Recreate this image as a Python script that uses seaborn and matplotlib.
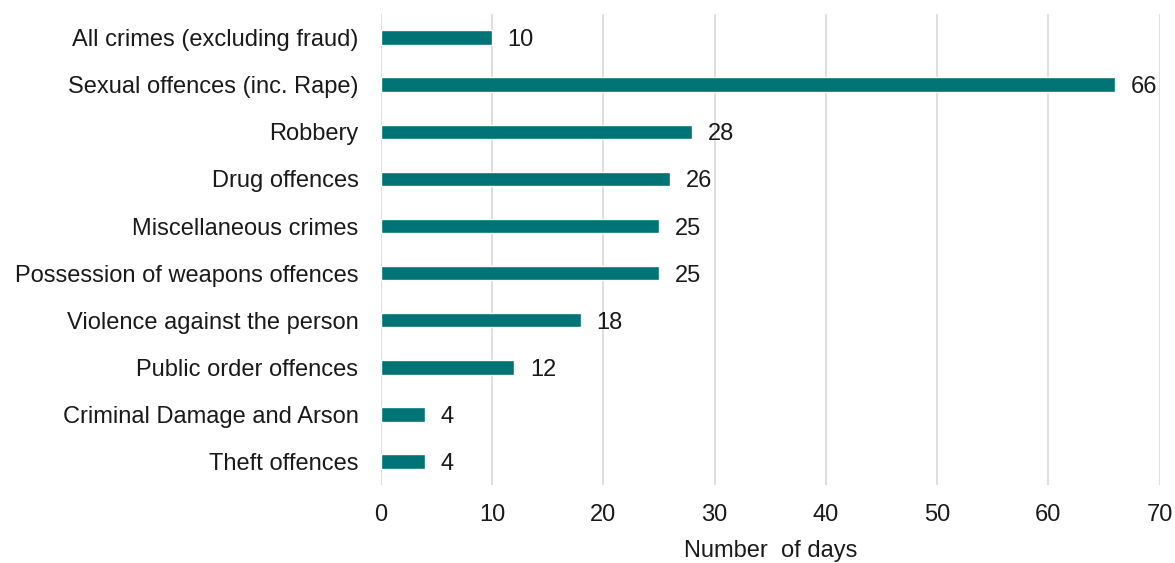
import matplotlib
matplotlib.use("Agg")
import matplotlib.pyplot as plt
import seaborn as sns
import pandas as pd

categories = [
    "All crimes (excluding fraud)",
    "Sexual offences (inc. Rape)",
    "Robbery",
    "Drug offences",
    "Miscellaneous crimes",
    "Possession of weapons offences",
    "Violence against the person",
    "Public order offences",
    "Criminal Damage and Arson",
    "Theft offences",
]
days = [10, 66, 28, 26, 25, 25, 18, 12, 4, 4]
x_ticks = [0, 10, 20, 30, 40, 50, 60, 70]

sns.set_theme(style="white")
plt.rcParams["font.family"] = ["Liberation Sans", "DejaVu Sans"]

df = pd.DataFrame({"category": categories, "days": days})

fig = plt.figure(figsize=(11.75, 5.63), dpi=100)
ax = fig.add_axes([0.324, 0.1385, 0.663, 0.8365])

sns.barplot(data=df, y="category", x="days", orient="h", color="#007376",
            width=0.31, saturation=1, ax=ax)

for i, v in enumerate(days):
    ax.text(v + 1.4, i, f"{v}", va="center_baseline", ha="left",
            fontsize=17, color="#1a1a1a")

ax.set_xlim(0, 70)
ax.set_ylim(9.5, -0.5)
ax.set_xticks(x_ticks)
ax.set_xticklabels([str(t) for t in x_ticks], fontsize=17, color="#1a1a1a")
ax.tick_params(axis="y", labelsize=17, labelcolor="#1a1a1a", length=0, pad=16)
ax.tick_params(axis="x", length=0, pad=14)
ax.xaxis.grid(True, color="#dcdcdc", linewidth=1.3)
ax.set_axisbelow(True)
for s in ax.spines.values():
    s.set_visible(False)
ax.set_ylabel("")
ax.set_xlabel("Number  of days", fontsize=17, color="#1a1a1a", labelpad=10)

fig.savefig("out.png", dpi=100, facecolor="white")
